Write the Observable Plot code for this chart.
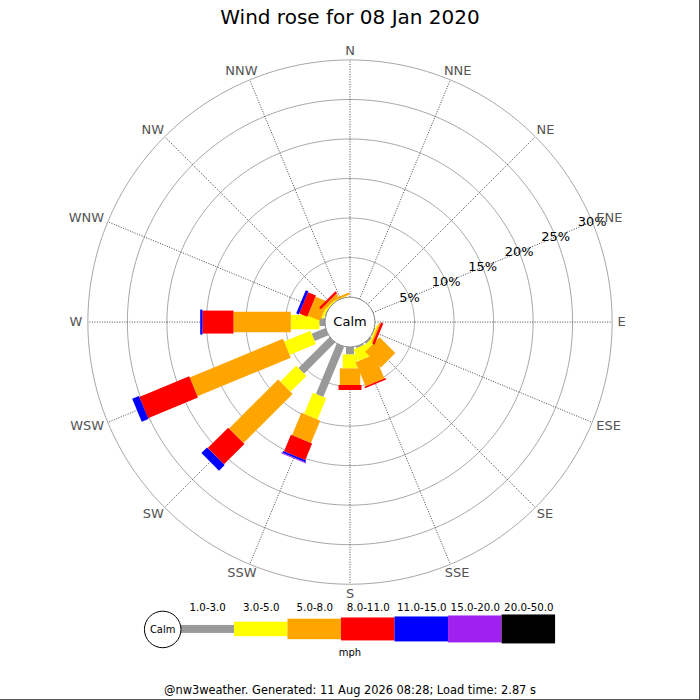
<!DOCTYPE html>
<html>
<head>
<meta charset="utf-8">
<script src="https://cdn.jsdelivr.net/npm/d3@7"></script>
<script src="https://cdn.jsdelivr.net/npm/@observablehq/plot@0.6"></script>
<style>
  html, body { margin: 0; padding: 0; background: #fff; }
  #wrap { position: relative; width: 700px; height: 700px; box-sizing: border-box;
          border-right: 1px solid #555; border-bottom: 1px solid #555; overflow: hidden;
          font-family: "DejaVu Sans", sans-serif; }
  #title { position: absolute; left: 0; top: 0; width: 700px; height: 34px; line-height: 34px;
           text-align: center; font-size: 20px; color: #000; }
  #main { position: absolute; left: 0; top: 35px; }
  #legend { position: absolute; left: 0; top: 595px; }
  #unit { position: absolute; left: 0; top: 645px; width: 700px; line-height: 16px;
          text-align: center; font-size: 10px; color: #000; }
  #footer { position: absolute; left: 0; top: 682px; width: 700px; line-height: 16px;
            text-align: center; font-size: 11.4px; color: #000; }
</style>
</head>
<body>
<div id="wrap">
  <div id="title"></div>
  <div id="main"></div>
  <div id="legend"></div>
  <div id="unit"></div>
  <div id="footer"></div>
</div>
<script>
// ---------------- data ----------------
const title = "Wind rose for 08 Jan 2020";
const footer = "@nw3weather. Generated: 11 Aug 2026 08:28; Load time: 2.87 s";
const unitLabel = "mph";
const calmLabel = "Calm";
const directions = ["N","NNE","NE","ENE","E","ESE","SE","SSE","S","SSW","SW","WSW","W","WNW","NW","NNW"];
const speedBins = ["1.0-3.0","3.0-5.0","5.0-8.0","8.0-11.0","11.0-15.0","15.0-20.0","20.0-50.0"];
// percent of time per direction, by speed bin
const bin1to3   = [0,0,0,0,0,0.1,0.25,0.2,0.93,6.9,5.56,1.89,0.72,0.1,0,0];
const bin3to5   = [0,0,0,0,0,0.2,0.6,1.6,1.77,2.9,2.84,3.6,3.61,0.3,0.2,0.1];
const bin5to8   = [0,0,0,0,0,0.2,2.8,3.3,2.1,3.07,8.78,12.77,7.25,1.7,0.4,0.25];
const bin8to11  = [0,0,0,0,0,0.3,0,0.2,0.63,2.27,3.66,6.83,3.92,1.1,0.3,0];
const bin11to15 = [0,0,0,0,0,0,0,0,0,0.25,1.01,0.92,0.29,0.35,0,0];
const bin15to20 = [0,0,0,0,0,0,0,0,0,0.12,0,0,0,0,0,0];
const bin20to50 = [0,0,0,0,0,0,0,0,0,0,0,0,0,0,0,0];
const ringTicks = [5,10,15,20,25,30];

// ---------------- styling ----------------
const binColors = ["#999999","#ffff00","#ffa500","#ff0000","#0000ff","#a020f0","#000000"];
const binThickness = [8, 14.5, 20.5, 23, 25, 27, 29];
const FONT = "DejaVu Sans";
const CALM_PX = 25, PX_PER_PCT = 7.917;
const CALM = CALM_PX / PX_PER_PCT;     // data units (percent) of the calm hole
const W = 700, H = 565, CX = 350, CY = 287;
const LABEL_R_PX = 267;

document.getElementById("title").textContent = title;
document.getElementById("footer").textContent = footer;
document.getElementById("unit").textContent = unitLabel;

const binSeries = [bin1to3, bin3to5, bin5to8, bin8to11, bin11to15, bin15to20, bin20to50];
const rad = a => a * Math.PI / 180;
const angleOf = i => i * 360 / directions.length;

// stacked segments
const segments = [];
directions.forEach((dir, i) => {
  let cum = CALM;
  const th = rad(angleOf(i));
  binSeries.forEach((arr, b) => {
    const v = arr[i];
    if (v > 0) {
      segments.push({dir, bin: b,
        x1: cum * Math.sin(th), y1: cum * Math.cos(th),
        x2: (cum + v) * Math.sin(th), y2: (cum + v) * Math.cos(th)});
      cum += v;
    }
  });
});

// rings
const ringPts = [];
ringTicks.forEach(p => {
  for (let a = 0; a <= 360; a += 1) {
    ringPts.push({p, x: (CALM + p) * Math.sin(rad(a)), y: (CALM + p) * Math.cos(rad(a))});
  }
});

// spokes
const spokes = directions.map((d, i) => {
  const th = rad(angleOf(i));
  const R = CALM + ringTicks[ringTicks.length - 1];
  return {x1: CALM * Math.sin(th), y1: CALM * Math.cos(th), x2: R * Math.sin(th), y2: R * Math.cos(th)};
});

// direction labels
const ctx = document.createElement("canvas").getContext("2d");
ctx.font = `13px "${FONT}"`;
const dirLabels = directions.map((d, i) => {
  const th = rad(angleOf(i));
  const w = ctx.measureText(d).width;
  const sx = Math.sin(th), sy = Math.cos(th);
  const px = LABEL_R_PX * sx + sx * (w / 2 + 1);
  const py = LABEL_R_PX * sy + sy * 5;
  return {text: d, x: px / PX_PER_PCT, y: py / PX_PER_PCT};
});

// percent labels along ENE
const pctAngle = rad(angleOf(directions.indexOf("ENE")));
const pctLabels = ringTicks.map(p => ({text: p + "%",
  x: (CALM + p) * Math.sin(pctAngle), y: (CALM + p) * Math.cos(pctAngle)}));

const main = Plot.plot({
  width: W, height: H,
  margin: 0,
  style: {fontFamily: FONT, background: "transparent", overflow: "visible"},
  x: {domain: [-CX / PX_PER_PCT, (W - CX) / PX_PER_PCT], range: [0, W], axis: null},
  y: {domain: [-(H - CY) / PX_PER_PCT, CY / PX_PER_PCT], range: [H, 0], axis: null},
  marks: [
    Plot.line(ringPts, {x: "x", y: "y", z: "p", stroke: "#a6a6a6", strokeWidth: 1}),
    Plot.link(spokes, {x1: "x1", y1: "y1", x2: "x2", y2: "y2", stroke: "#444", strokeWidth: 1, strokeDasharray: "1,1.5"}),
    ...binColors.map((c, b) => Plot.link(segments.filter(s => s.bin === b), {
      x1: "x1", y1: "y1", x2: "x2", y2: "y2",
      stroke: c, strokeWidth: binThickness[b], strokeLinecap: "butt"
    })),
    Plot.dot([0], {x: () => 0, y: () => 0, r: CALM_PX, fill: "white", stroke: "#888", strokeWidth: 1}),
    Plot.text([calmLabel], {x: () => 0, y: () => 0, text: d => d, fontSize: 13, fill: "#000"}),
    Plot.text(pctLabels, {x: "x", y: "y", text: "text", fontSize: 13, fill: "#000"}),
    Plot.text(dirLabels, {x: "x", y: "y", text: "text", fontSize: 13, fill: "#555"})
  ]
});
document.getElementById("main").append(main);

// ---------------- legend ----------------
const LEG_X0 = 180.7, LEG_UNIT = 53.6, LEG_H = 70, LEG_CY = 34, LEG_LABEL_Y = 12, LEG_CALM_R = 18.3;
const legendItems = speedBins.map((s, i) => ({s, i, t: binThickness[i], c: binColors[i]}));
const legend = Plot.plot({
  width: W, height: LEG_H, margin: 0,
  style: {fontFamily: FONT, background: "transparent", overflow: "visible"},
  x: {domain: [-LEG_X0 / LEG_UNIT, (W - LEG_X0) / LEG_UNIT], range: [0, W], axis: null},
  y: {domain: [0, LEG_H], range: [0, LEG_H], axis: null},
  color: {type: "identity"},
  marks: [
    Plot.rect(legendItems, {x1: d => d.i, x2: d => d.i + 1, y1: d => LEG_CY - d.t / 2, y2: d => LEG_CY + d.t / 2, fill: d => d.c}),
    Plot.text(legendItems, {x: d => d.i + 0.5, y: () => LEG_LABEL_Y, text: "s", fontSize: 10.3, fill: "#000"}),
    Plot.dot([calmLabel], {x: () => -LEG_CALM_R / LEG_UNIT, y: () => LEG_CY, r: LEG_CALM_R, fill: "white", stroke: "#000", strokeWidth: 1}),
    Plot.text([calmLabel], {x: () => -LEG_CALM_R / LEG_UNIT, y: () => LEG_CY, text: d => d, fontSize: 10, fill: "#000"})
  ]
});
document.getElementById("legend").append(legend);
</script>
</body>
</html>
